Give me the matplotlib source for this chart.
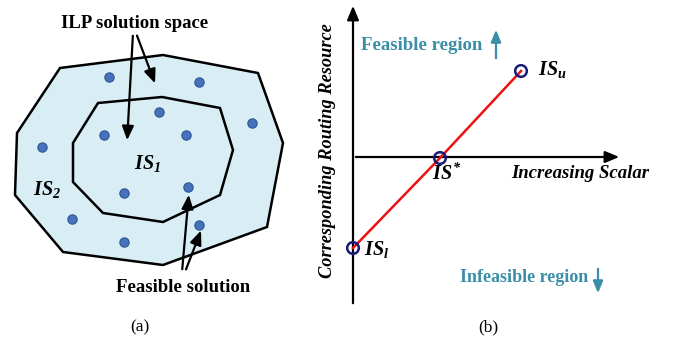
import matplotlib
matplotlib.use("Agg")
import matplotlib.pyplot as plt
from matplotlib.patches import Polygon

plt.rcParams['font.family'] = ['Liberation Serif', 'DejaVu Serif']
plt.rcParams['mathtext.fontset'] = 'custom'
plt.rcParams['mathtext.it'] = 'Liberation Serif:italic:bold'
plt.rcParams['mathtext.rm'] = 'Liberation Serif:italic:bold'
plt.rcParams['mathtext.bf'] = 'Liberation Serif:italic:bold'

# ---- data (diagram coordinates, pixel space) ----
outer_poly = [(60, 68), (163, 55), (258, 73), (283, 143), (267, 227),
              (163, 265), (63, 252), (15, 195), (17, 133)]
inner_poly = [(98, 103), (162, 97), (220, 108), (233, 150), (220, 195),
              (163, 222), (103, 213), (73, 182), (73, 143)]
dots_x = [109, 199, 159, 104, 186, 252, 42, 124, 188, 72, 199, 124]
dots_y = [77, 82, 112, 135, 135, 123, 147, 193, 187, 219, 225, 242]

line_x = [353, 440, 521]
line_y = [248, 158, 71]
line_labels = [r'$IS_l$', r'$IS^{*}$', r'$IS_u$']

fig = plt.figure(figsize=(6.73, 3.43), dpi=100)
ax = fig.add_axes([0, 0, 1, 1])
ax.set_xlim(0, 673)
ax.set_ylim(343, 0)
ax.axis('off')

fill = '#d8edf4'
ax.add_patch(Polygon(outer_poly, closed=True, facecolor=fill, edgecolor='black', lw=1.8, zorder=1))
ax.add_patch(Polygon(inner_poly, closed=True, facecolor=fill, edgecolor='black', lw=1.8, zorder=2))
ax.scatter(dots_x, dots_y, s=45, color='#4572bb', edgecolor='#2f5597', lw=0.8, zorder=3)

arrow_kw = dict(arrowstyle='-|>,head_length=0.6,head_width=0.25', color='black', lw=1.6, mutation_scale=14)
ax.annotate('', xy=(127, 143), xytext=(133, 33), arrowprops=arrow_kw, zorder=4)
ax.annotate('', xy=(156, 86), xytext=(136, 33), arrowprops=arrow_kw, zorder=4)
ax.annotate('', xy=(189, 192), xytext=(182, 272), arrowprops=arrow_kw, zorder=4)
ax.annotate('', xy=(202, 228), xytext=(185, 272), arrowprops=arrow_kw, zorder=4)

lbl = 13.5
ax.text(135, 23, 'ILP solution space', ha='center', va='center', fontsize=lbl, fontweight='bold')
ax.text(183, 288, 'Feasible solution', ha='center', va='center', fontsize=lbl, fontweight='bold')
ax.text(147, 163, r'$IS_1$', ha='center', va='center', fontsize=14.5)
ax.text(47, 190, r'$IS_2$', ha='center', va='center', fontsize=14.5)
ax.text(140, 327, '(a)', ha='center', va='center', fontsize=12.5)

# ---- panel (b) ----
ax_kw = dict(arrowstyle='-|>,head_length=0.6,head_width=0.25', color='black', lw=1.6, mutation_scale=14)
ax.annotate('', xy=(353, 3), xytext=(353, 306), arrowprops=ax_kw)
ax.annotate('', xy=(622, 157), xytext=(353, 157), arrowprops=ax_kw)

ax.plot(line_x, line_y, color='#ee1111', lw=1.8, zorder=5)
ax.scatter(line_x, line_y, s=70, facecolor='none', edgecolor='#1a1a7a', lw=1.8, zorder=6)
ax.text(364, 249, line_labels[0], ha='left', va='center', fontsize=14.5)
ax.text(447, 174, line_labels[1], ha='center', va='center', fontsize=14.5)
ax.text(538, 70, line_labels[2], ha='left', va='center', fontsize=14.5)

ax.text(580, 174, 'Increasing Scalar', ha='center', va='center', fontsize=lbl,
        fontweight='bold', style='italic')
ax.text(327, 151, 'Corresponding Routing Resource', ha='center', va='center', fontsize=13.2,
        fontweight='bold', style='italic', rotation=90)

teal = '#3a8fa6'
ax.text(422, 45, 'Feasible region', ha='center', va='center', fontsize=lbl, fontweight='bold', color=teal)
ax.text(524, 278, 'Infeasible region', ha='center', va='center', fontsize=13, fontweight='bold', color=teal)
t_kw = dict(arrowstyle='-|>,head_length=0.6,head_width=0.25', color=teal, lw=1.6, mutation_scale=12)
ax.annotate('', xy=(496, 27), xytext=(496, 61), arrowprops=t_kw)
ax.annotate('', xy=(598, 296), xytext=(598, 266), arrowprops=t_kw)

ax.text(488, 327, '(b)', ha='center', va='center', fontsize=12.5)

fig.savefig('out.png', dpi=100)
